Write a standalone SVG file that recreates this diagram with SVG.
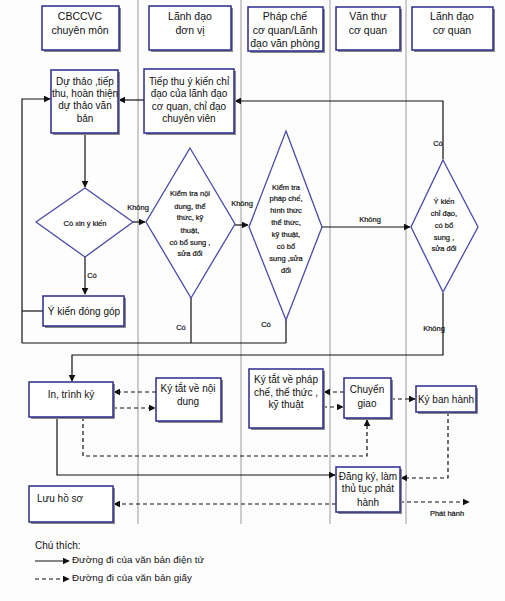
<svg xmlns="http://www.w3.org/2000/svg" width="505" height="601" viewBox="0 0 505 601">
<defs>
<style>
.lane{stroke:#9a9a9a;stroke-width:1}
.box{fill:#fff;stroke:#2b2b8c;stroke-width:1.5}
.sh{fill:#8a8a8a}
.dia{fill:#fff;stroke:#4a4aa8;stroke-width:1.3}
.t{font-family:"Liberation Sans",Arial,sans-serif;font-size:10px;fill:#111;text-anchor:middle}
.th{font-family:"Liberation Sans",Arial,sans-serif;font-size:10.5px;fill:#111;text-anchor:middle}
.td{font-family:"Liberation Sans",Arial,sans-serif;font-size:7.5px;fill:#111;text-anchor:middle;stroke:#111;stroke-width:0.2}
.tl{font-family:"Liberation Sans",Arial,sans-serif;font-size:7.5px;fill:#111;text-anchor:middle;stroke:#111;stroke-width:0.2}
.lg{font-family:"Liberation Sans",Arial,sans-serif;font-size:9.8px;fill:#111}
.s{fill:none;stroke:#111;stroke-width:1.2}
.d{fill:none;stroke:#111;stroke-width:1.2;stroke-dasharray:4,3}
</style>
<marker id="ah" viewBox="0 0 10 10" refX="9" refY="5" markerWidth="7" markerHeight="7" orient="auto" markerUnits="userSpaceOnUse">
<path d="M0,0 L10,5 L0,10 z" fill="#111"/>
</marker>
</defs>
<rect width="505" height="601" fill="#fdfdfd"/>
<g id="lanes">
<line class="lane" x1="138" y1="0" x2="138" y2="524"/>
<line class="lane" x1="241" y1="0" x2="241" y2="524"/>
<line class="lane" x1="330" y1="0" x2="330" y2="524"/>
<line class="lane" x1="406" y1="0" x2="406" y2="524"/>
</g>
<g id="h1"><rect class="sh" x="44" y="8" width="77" height="44"/><rect class="box" x="42" y="6" width="77" height="44"/><text class="th" x="80" y="20">CBCCVC</text><text class="th" x="80" y="34">chuyên môn</text></g>
<g id="h2"><rect class="sh" x="151" y="8" width="82" height="44"/><rect class="box" x="149" y="6" width="82" height="44"/><text class="th" x="190" y="20">Lãnh đạo</text><text class="th" x="190" y="34">đơn vị</text></g>
<g id="h3"><rect class="sh" x="250" y="9" width="75" height="44"/><rect class="box" x="248" y="7" width="75" height="44"/><text class="th" x="285" y="20">Pháp chế</text><text class="th" x="285" y="34">cơ quan/Lãnh</text><text class="th" x="285" y="47">đạo văn phòng</text></g>
<g id="h4"><rect class="sh" x="338" y="9" width="64" height="43"/><rect class="box" x="336" y="7" width="64" height="43"/><text class="th" x="368" y="20">Văn thư</text><text class="th" x="368" y="34">cơ quan</text></g>
<g id="h5"><rect class="sh" x="414" y="9" width="81" height="43"/><rect class="box" x="412" y="7" width="81" height="43"/><text class="th" x="452" y="20">Lãnh đạo</text><text class="th" x="452" y="34">cơ quan</text></g>

<g id="connectors">
<path class="s" d="M144,100 H119" marker-end="url(#ah)"/>
<path class="s" d="M443,159 V101 H235" marker-end="url(#ah)"/>
<path class="s" d="M22,343 V99 H50" marker-end="url(#ah)"/>
<path class="s" d="M85,133 V187" marker-end="url(#ah)"/>
<path class="s" d="M85,257 V294" marker-end="url(#ah)"/>
<path class="s" d="M43,311 H22"/>
<path class="s" d="M133,222 H145" marker-end="url(#ah)"/>
<path class="s" d="M235,225 H248" marker-end="url(#ah)"/>
<path class="s" d="M322,227 H410" marker-end="url(#ah)"/>
<path class="s" d="M191,298 V343 M286,320 V343 M22,343 H286"/>
<path class="s" d="M443,293 V355 H72 V381" marker-end="url(#ah)"/>
<path class="d" d="M156,392 H114" marker-end="url(#ah)"/>
<path class="d" d="M113,408 H155" marker-end="url(#ah)"/>
<path class="d" d="M83,417 V456 H367 V420" marker-end="url(#ah)"/>
<path class="s" d="M57,417 V475 H335" marker-end="url(#ah)"/>
<path class="d" d="M344,392 H324" marker-end="url(#ah)"/>
<path class="d" d="M323,407 H343" marker-end="url(#ah)"/>
<path class="d" d="M391,399 H415" marker-end="url(#ah)"/>
<path class="d" d="M448,412 V478 H401" marker-end="url(#ah)"/>
<path class="d" d="M336,504 H114" marker-end="url(#ah)"/>
<path class="d" d="M400,502 H469" marker-end="url(#ah)"/>
<text class="tl" x="138" y="210">Không</text>
<text class="tl" x="242" y="206">Không</text>
<text class="tl" x="370" y="222">Không</text>
<text class="tl" x="438" y="146">Có</text>
<text class="tl" x="92" y="278">Có</text>
<text class="tl" x="181" y="330">Có</text>
<text class="tl" x="266" y="327">Có</text>
<text class="tl" x="434" y="331">Không</text>
<text class="tl" x="447" y="516">Phát hành</text>
</g>

<g id="n1"><rect class="sh" x="53" y="72" width="67" height="63"/><rect class="box" x="51" y="70" width="67" height="63"/><text class="t" x="85" y="85">Dự thảo ,tiếp</text><text class="t" x="85" y="97">thu, hoàn thiện</text><text class="t" x="85" y="109">dự thảo văn</text><text class="t" x="85" y="122">bản</text></g>
<g id="n2"><rect class="sh" x="146" y="71" width="90" height="64"/><rect class="box" x="144" y="69" width="90" height="64"/><text class="t" x="189" y="85">Tiếp thu ý kiến chỉ</text><text class="t" x="189" y="97">đạo của lãnh  đạo</text><text class="t" x="189" y="110">cơ quan, chỉ đạo</text><text class="t" x="189" y="122">chuyên viên</text></g>
<g id="n3"><polygon class="dia" points="85,188 133,222 85,257 36,222"/><text class="td" x="85" y="226">Có xin ý kiến</text></g>
<g id="n4"><rect class="sh" x="45" y="298" width="81" height="30"/><rect class="box" x="43" y="296" width="81" height="30"/><text class="t" x="84" y="315">Ý kiến đóng góp</text></g>
<g id="n5"><polygon class="dia" points="190,148 235,224 191,298 146,222"/><text class="td" x="190" y="196">Kiểm tra nội</text><text class="td" x="190" y="209">dung, thể</text><text class="td" x="190" y="220">thức, kỹ</text><text class="td" x="190" y="233">thuật,</text><text class="td" x="190" y="245">có bổ sung ,</text><text class="td" x="190" y="256">sửa đổi</text></g>
<g id="n6"><polygon class="dia" points="286,131 322,227 286,320 249,227"/><text class="td" x="286" y="190">Kiểm tra</text><text class="td" x="286" y="201">pháp chế,</text><text class="td" x="286" y="213">hình thức</text><text class="td" x="286" y="225">thể thức,</text><text class="td" x="286" y="237">kỹ thuật,</text><text class="td" x="286" y="249">có bổ</text><text class="td" x="286" y="261">sung ,sửa</text><text class="td" x="286" y="273">đổi</text></g>
<g id="n7"><polygon class="dia" points="443,160 478,227 443,292 411,227"/><text class="td" x="444" y="204">Ý kiến</text><text class="td" x="444" y="216">chỉ đạo,</text><text class="td" x="444" y="228">có bổ</text><text class="td" x="444" y="240">sung ,</text><text class="td" x="444" y="251">sửa đổi</text></g>
<g id="n8"><rect class="sh" x="31" y="384" width="84" height="35"/><rect class="box" x="29" y="382" width="84" height="35"/><text class="t" x="71" y="398">In, trình ký</text></g>
<g id="n9"><rect class="sh" x="158" y="380" width="65" height="43"/><rect class="box" x="156" y="378" width="65" height="43"/><text class="t" x="188" y="392">Ký tắt về nội</text><text class="t" x="188" y="405">dung</text></g>
<g id="n10"><rect class="sh" x="251" y="371" width="74" height="59"/><rect class="box" x="249" y="369" width="74" height="59"/><text class="t" x="286" y="383">Ký tắt về pháp</text><text class="t" x="286" y="396">chế, thể thức ,</text><text class="t" x="286" y="408">kỹ thuật</text></g>
<g id="n11"><rect class="sh" x="346" y="380" width="47" height="40"/><rect class="box" x="344" y="378" width="47" height="40"/><text class="t" x="367" y="393">Chuyển</text><text class="t" x="367" y="407">giao</text></g>
<g id="n12"><rect class="sh" x="418" y="388" width="60" height="26"/><rect class="box" x="416" y="386" width="60" height="26"/><text class="t" x="446" y="403">Ký ban hành</text></g>
<g id="n13"><rect class="sh" x="338" y="469" width="64" height="45"/><rect class="box" x="336" y="467" width="64" height="45"/><text class="t" x="368" y="480">Đăng ký, làm</text><text class="t" x="368" y="492">thủ tục phát</text><text class="t" x="368" y="506">hành</text></g>
<g id="n14"><rect class="sh" x="31" y="488" width="84" height="36"/><rect class="box" x="29" y="486" width="84" height="36"/><text class="t" x="60" y="502">Lưu hồ sơ</text></g>

<g id="legend">
<text class="lg" x="35" y="549" style="font-size:10px">Chú thích:</text>
<path class="s" d="M35,561 H69" marker-end="url(#ah)"/>
<text class="lg" x="72" y="563" textLength="132" lengthAdjust="spacing">Đường đi của văn bản điện tử</text>
<path class="d" d="M35,579 H69" marker-end="url(#ah)"/>
<text class="lg" x="72" y="581" textLength="120" lengthAdjust="spacing">Đường đi của văn bản giấy</text>
</g>
</svg>
